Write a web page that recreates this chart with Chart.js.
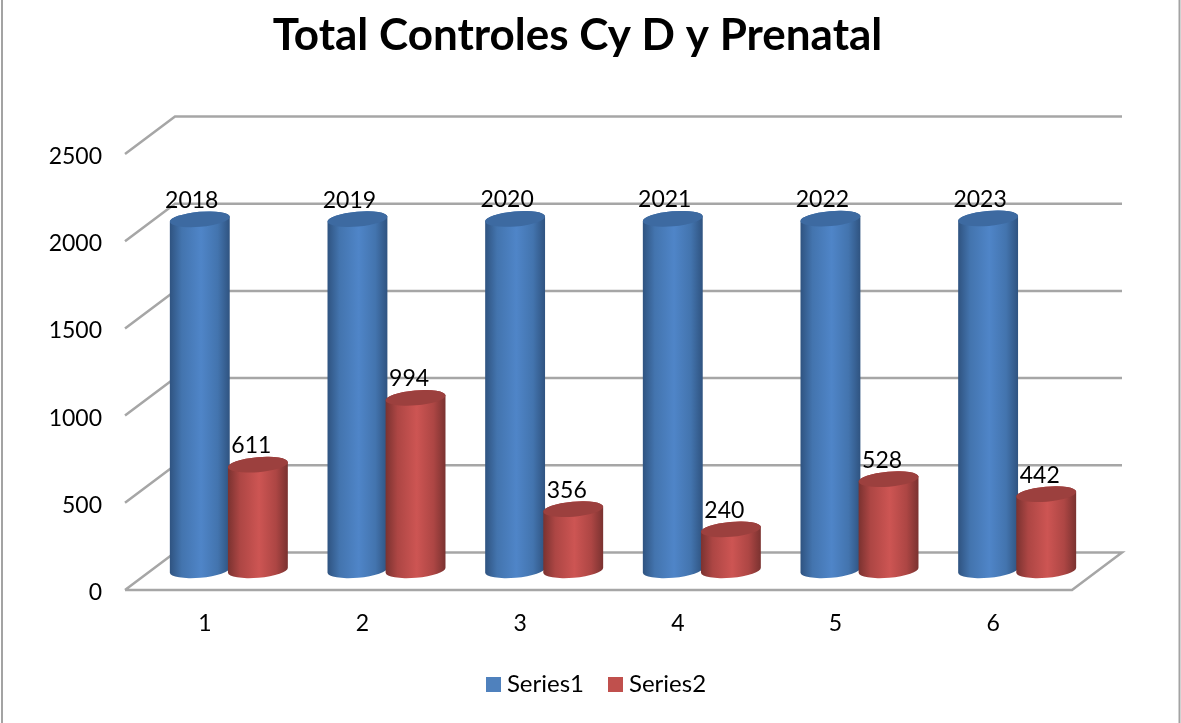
<!DOCTYPE html>
<html>
<head>
<meta charset="utf-8">
<style>html,body{margin:0;padding:0;background:#fff}canvas{display:block}</style>
<script src="https://cdn.jsdelivr.net/npm/chart.js@4/dist/chart.umd.min.js"></script>
</head>
<body>
<canvas id="c" width="1181" height="723"></canvas>
<script>
const categories = ['1','2','3','4','5','6'];
const series1 = [2018,2019,2020,2021,2022,2023];
const series2 = [611,994,356,240,528,442];
const chartTitle = 'Total Controles Cy D y Prenatal';
const seriesColors = ['#4f81bd','#c0504d'];

const FONT = 'Lato, "Open Sans", sans-serif';
const DX = 50, DY = -37.5, GRID = '#a6a6a6';
const STYLES = [
  {edge:'#2f5380', mid:'#4374ae', light:'#4f85c8', top:'#3d6aa1', labelDx:-9},
  {edge:'#7a3230', mid:'#ad4644', light:'#cd5553', top:'#9c403e', labelDx:-7.5}
];

function swatch(color){
  const c = document.createElement('canvas');
  c.width = 15; c.height = 15;
  const x = c.getContext('2d');
  x.fillStyle = color; x.fillRect(0,0,15,15);
  return c;
}

function cylinder(ctx, cx, topY, botY, rx, st){
  const ry = 7.5, rot = -0.085;
  const cos = Math.cos(rot), sin = Math.sin(rot);
  const g = ctx.createLinearGradient(cx-rx,0,cx+rx,0);
  g.addColorStop(0, st.edge); g.addColorStop(0.2, st.mid);
  g.addColorStop(0.52, st.light); g.addColorStop(0.8, st.mid); g.addColorStop(1, st.edge);
  ctx.beginPath();
  ctx.ellipse(cx, botY, rx, ry, rot, 0, Math.PI);
  ctx.lineTo(cx-rx*cos, topY-rx*sin);
  ctx.ellipse(cx, topY, rx, ry, rot, Math.PI, 2*Math.PI);
  ctx.closePath();
  ctx.fillStyle = g; ctx.fill();
  ctx.beginPath();
  ctx.ellipse(cx, topY, rx, ry, rot, 0, 2*Math.PI);
  ctx.fillStyle = st.top; ctx.fill();
}

const scene = {
  id:'scene',
  afterLayout(chart){
    const t = chart.titleBlock, l = chart.legend;
    t.left += 41.5; t.right += 41.5;
    l.left += 63; l.right += 63;
    chart.scales.y.getLabelItems().forEach(it=>{ it.options.translation[1] += 2.5; });
  },
  beforeDraw(chart){
    const ctx = chart.ctx;
    ctx.save();
    ctx.strokeStyle = '#a3a3a3'; ctx.lineWidth = 2;
    ctx.beginPath();
    ctx.moveTo(2,0); ctx.lineTo(2,723);
    ctx.moveTo(1179.5,0); ctx.lineTo(1179.5,723);
    ctx.stroke();
    ctx.restore();
  },
  beforeDatasetsDraw(chart){
    const ctx = chart.ctx, ys = chart.scales.y, a = chart.chartArea;
    ctx.save();
    ctx.strokeStyle = GRID; ctx.lineWidth = 2.5; ctx.lineJoin = 'miter';
    ys.ticks.forEach(t=>{
      const py = ys.getPixelForValue(t.value);
      ctx.beginPath();
      ctx.moveTo(a.left-1, py);
      ctx.lineTo(a.left+DX-1, py+DY);
      ctx.lineTo(a.right+DX, py+DY);
      if(t.value===0){ ctx.lineTo(a.right, py); ctx.lineTo(a.left-1, py); }
      ctx.stroke();
    });
    ctx.restore();
  },
  beforeDatasetDraw(){ return false; },
  afterDatasetsDraw(chart){
    const ctx = chart.ctx;
    ctx.save();
    chart.data.datasets.forEach((ds,i)=>{
      chart.getDatasetMeta(i).data.forEach(bar=>{
        const cx = bar.x + DX/2 - 1;
        cylinder(ctx, cx, bar.y + DY/2, bar.base + DY/2 - 1, bar.width/2 + 1, STYLES[i]);
      });
    });
    ctx.fillStyle = '#000';
    ctx.font = '23px ' + FONT;
    ctx.textAlign = 'center'; ctx.textBaseline = 'middle';
    chart.data.datasets.forEach((ds,i)=>{
      chart.getDatasetMeta(i).data.forEach((bar,j)=>{
        ctx.fillText(String(ds.data[j]), bar.x + DX/2 + STYLES[i].labelDx, bar.y + DY/2 - 19);
      });
    });
    ctx.restore();
  }
};

new Chart(document.getElementById('c'), {
  type:'bar',
  data:{
    labels:categories,
    datasets:[
      {label:'Series1', data:series1, backgroundColor:seriesColors[0], pointStyle:swatch(seriesColors[0])},
      {label:'Series2', data:series2, backgroundColor:seriesColors[1], pointStyle:swatch(seriesColors[1])}
    ]
  },
  plugins:[scene],
  options:{
    responsive:false, animation:false,
    categoryPercentage:0.737, barPercentage:1,
    layout:{padding:{left:0,right:109,top:0,bottom:17}},
    plugins:{
      tooltip:{enabled:false},
      title:{display:true, text:chartTitle, color:'#000',
        font:{family:FONT, size:44, weight:'bold', lineHeight:1.2},
        padding:{top:9,bottom:92.2}},
      legend:{position:'bottom',
        labels:{color:'#000', usePointStyle:true, pointStyleWidth:3, boxHeight:15, padding:30,
          font:{family:FONT, size:24}}}
    },
    scales:{
      x:{
        grid:{display:false, drawTicks:false}, border:{display:false},
        ticks:{color:'#000', padding:20, font:{family:FONT, size:23}, maxRotation:0},
        afterFit(s){ s.height = 52; }
      },
      y:{
        min:0, max:2500,
        grid:{display:false, drawTicks:false}, border:{display:false},
        ticks:{stepSize:500, color:'#000', padding:24, font:{family:FONT, size:23},
          callback:v=>String(v)},
        afterFit(s){ s.width = 126; }
      }
    }
  }
});
</script>
</body>
</html>
